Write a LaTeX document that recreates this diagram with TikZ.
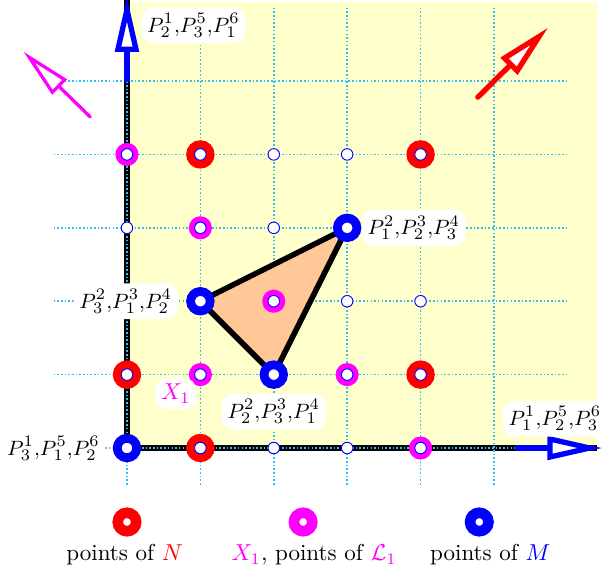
\documentclass[tikz,border=0pt]{standalone}
\usepackage{amsmath, amssymb}
\usepackage{xcolor}
\usetikzlibrary{arrows.meta, positioning}

\definecolor{gridblue}{RGB}{50,190,245}
\definecolor{paleyellow}{RGB}{255,255,204}
\definecolor{peach}{RGB}{255,200,150}
\definecolor{pmag}{RGB}{255,0,255}

\begin{document}
\begin{tikzpicture}[
        x=1.12cm, y=1.12cm,
        gridline/.style={draw=gridblue, line width=0.7pt, dash pattern=on 0.7pt off 0.9pt},
        axisline/.style={draw=black, line width=2.2pt},
        bigtip/.style={-{Triangle[fill=white, length=24pt, width=10pt]}},
        axisarrow/.style={bigtip, draw=blue, line width=2.3pt},
        tri/.style={fill=peach, draw=black, line width=2.4pt, line join=round},
        lattice/.style={circle, draw=blue, fill=white, line width=0.4pt, minimum size=5pt, inner sep=0pt},
        ringN/.style={circle, draw=red, line width=3.6pt, minimum size=8.7pt, inner sep=0pt},
        ringL/.style={circle, draw=pmag, line width=2.4pt, minimum size=7.6pt, inner sep=0pt},
        ringM/.style={circle, draw=blue, line width=3.6pt, minimum size=8.7pt, inner sep=0pt},
        legring/.style={circle, line width=4.6pt, minimum size=8pt, inner sep=0pt},
        lbl/.style={fill=white, rounded corners=5pt, inner sep=2.5pt, font=\fontsize{9.5pt}{11pt}\selectfont}
    ]

        \useasboundingbox (-1.730,-1.676) rectangle (6.649,6.104);
        \fill[paleyellow] (0,0) rectangle (6.40,6.076);

        \draw[axisline] (0,6.104) -- (0,0) -- (6.40,0);
        \foreach \x in {0,...,5} \draw[gridline] (\x,-0.5) -- (\x,6);
        \foreach \y in {0,...,5} \draw[gridline] (-1,\y) -- (6,\y);

        \coordinate (yTail) at (0,4.99);
        \coordinate (yTip) at (0,6.15);
        \coordinate (xTail) at (5.29,0);
        \coordinate (xTip) at (6.48,0);
        \coordinate (redTail) at (4.78,4.78);
        \coordinate (redTip) at (5.74,5.73);
        \coordinate (magTail) at (-0.50,4.51);
        \coordinate (magTip) at (-1.41,5.40);

        \draw[axisarrow] (yTail) -- (yTip);
        \draw[axisarrow] (xTail) -- (xTip);
        \draw[bigtip, draw=red, line width=2.3pt, line cap=round] (redTail) -- (redTip);
        \draw[-{Triangle[fill=white, length=22pt, width=9pt]}, draw=pmag, line width=1.4pt, line cap=round] (magTail) -- (magTip);

        \coordinate (tA) at (1,2);
        \coordinate (tB) at (3,3);
        \coordinate (tC) at (2,1);
        \filldraw[tri] (tA) -- (tB) -- (tC) -- cycle;

        \foreach \i/\j in {0/1, 1/0, 1/4, 4/4, 4/1}
            \node[ringN] (n\i\j) at (\i,\j) {};
        \foreach \i/\j in {0/4, 1/3, 1/1, 2/2, 3/1, 4/0}
            \node[ringL] (l\i\j) at (\i,\j) {};
        \foreach \i/\j in {0/0, 1/2, 2/1, 3/3}
            \node[ringM] (m\i\j) at (\i,\j) {};

        \foreach \i/\j in {0/0, 1/0, 2/0, 3/0, 4/0, 0/1, 1/1, 2/1, 3/1, 4/1,
                           1/2, 2/2, 3/2, 4/2, 0/3, 1/3, 2/3, 3/3,
                           0/4, 1/4, 2/4, 3/4, 4/4}
            \node[lattice] (p\i\j) at (\i,\j) {};

        \node[lbl, anchor=north west] (lblTop) at (0.19,6.01) {$P_2^1{,}P_3^5{,}P_1^6$};
        \node[lbl, right=0pt of m33] (lblB) {$P_1^2{,}P_2^3{,}P_3^4$};
        \node[lbl, left=3.5pt of m12] (lblA) {$P_3^2{,}P_1^3{,}P_2^4$};
        \node[lbl, below=2pt of m21] (lblC) {$P_2^2{,}P_3^3{,}P_1^4$};
        \node[lbl, left=3pt of m00] (lblO) {$P_3^1{,}P_1^5{,}P_2^6$};
        \node[lbl] (lblX) at (5.83,0.40) {$P_1^1{,}P_2^5{,}P_3^6$};
        \node[lbl, text=pmag, font=\normalsize] (lblXone) at (0.665,0.74) {$X_1$};

        \node[legring, draw=red] (legN) at (0,-1.008) {};
        \node[legring, draw=pmag] (legL) at (2.40,-1.008) {};
        \node[legring, draw=blue] (legM) at (4.80,-1.008) {};
        \node[below=0pt of legN, xshift=-1pt] (txtN) {points of \textcolor{red}{$N$}};
        \node[below=0pt of legL, xshift=4.8pt] (txtL) {\textcolor{pmag}{$X_1$}, points of \textcolor{pmag}{$\mathcal{L}_1$}};
        \node[below=0pt of legM, xshift=4.8pt] (txtM) {points of \textcolor{blue}{$M$}};

    \end{tikzpicture}
\end{document}
